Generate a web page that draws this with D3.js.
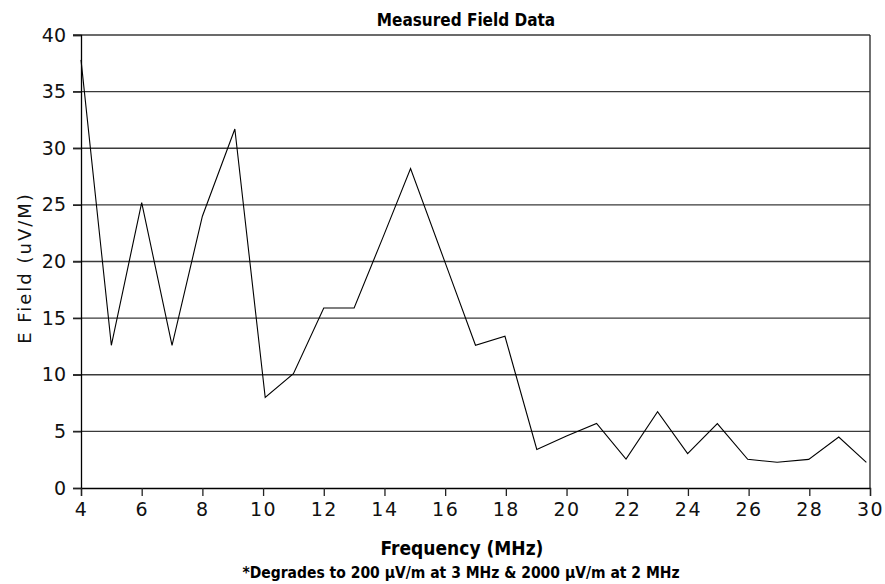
<!DOCTYPE html>
<html><head><meta charset="utf-8">
<script src="https://cdn.jsdelivr.net/npm/d3@7"></script>
<style>body{margin:0;background:#fff}</style>
</head><body>
<script>
const freq = [4, 5, 6, 7, 8, 9.07, 10.07, 11, 12, 13, 13.96, 14.86, 16, 17, 17.97, 19.02, 20, 20.99, 21.96, 23, 23.99, 24.97, 25.97, 26.94, 27.98, 28.97, 29.88];
const field = [37.8, 12.6, 25.2, 12.6, 24.0, 31.7, 8.0, 10.1, 15.9, 15.9, 22.2, 28.2, 19.9, 12.6, 13.4, 3.4, 4.6, 5.7, 2.56, 6.74, 3.03, 5.68, 2.53, 2.27, 2.53, 4.5, 2.27];
const xTicks = [4, 6, 8, 10, 12, 14, 16, 18, 20, 22, 24, 26, 28, 30];
const yTicks = [0, 5, 10, 15, 20, 25, 30, 35, 40];
const title = "Measured Field Data";
const xTitle = "Frequency (MHz)";
const yTitle = "E Field (uV/M)";
const footnote = "*Degrades to 200 \u03BCV/m at 3 MHz & 2000 \u03BCV/m at 2 MHz";

const W = 885, H = 584;
const m = {left: 81, right: 15, top: 35, bottom: 96};
const svg = d3.select("body").append("svg").attr("width", W).attr("height", H);
const x = d3.scaleLinear().domain([4, 30]).range([m.left, W - m.right]);
const y = d3.scaleLinear().domain([0, 40]).range([H - m.bottom, m.top]);
const tickFont = "'DejaVu Sans', sans-serif";

// gridlines
svg.append("g").selectAll("line").data(yTicks.filter(d => d > 0)).join("line")
  .attr("x1", x(4) - 8).attr("x2", x(30))
  .attr("y1", d => y(d)).attr("y2", d => y(d))
  .attr("stroke", "#3a3a3a").attr("stroke-width", 1.3);

// right frame
svg.append("line").attr("x1", x(30)).attr("x2", x(30)).attr("y1", y(40)).attr("y2", y(0))
  .attr("stroke", "#222").attr("stroke-width", 1.3);

// y axis
const ya = svg.append("g").attr("transform", `translate(${x(4)},0)`)
  .call(d3.axisLeft(y).tickValues(yTicks).tickSize(8).tickPadding(7).tickFormat(d3.format("d")));
ya.select(".domain").attr("stroke", "#000").attr("stroke-width", 1.3);
ya.selectAll(".tick line").attr("stroke", "#222").attr("stroke-width", 1.3);
ya.selectAll("text").attr("font-family", tickFont).attr("font-size", 19).attr("fill", "#111");

// x axis
const xa = svg.append("g").attr("transform", `translate(0,${y(0)})`)
  .call(d3.axisBottom(x).tickValues(xTicks).tickSize(8).tickPadding(7).tickFormat(d3.format("d")));
xa.select(".domain").attr("stroke", "#000").attr("stroke-width", 1.3);
xa.selectAll(".tick line").attr("stroke", "#222").attr("stroke-width", 1.3);
xa.selectAll("text").attr("font-family", tickFont).attr("font-size", 19).attr("fill", "#111")
  .attr("letter-spacing", 1.5);

// data line
const data = freq.map((f, i) => [f, field[i]]);
svg.append("path").datum(data)
  .attr("d", d3.line().x(d => x(d[0])).y(d => y(d[1])))
  .attr("fill", "none").attr("stroke", "#000").attr("stroke-width", 1.1);

// titles
const boldFont = "'DejaVu Sans Condensed', 'DejaVu Sans', sans-serif";
svg.append("text").attr("x", 466).attr("y", 26).attr("text-anchor", "middle")
  .attr("font-family", boldFont).attr("font-weight", "bold").attr("font-size", 17).text(title);
svg.append("text").attr("x", 462).attr("y", 555).attr("text-anchor", "middle")
  .attr("font-family", boldFont).attr("font-weight", "bold").attr("font-size", 19).text(xTitle);
svg.append("text").attr("x", 461).attr("y", 578).attr("text-anchor", "middle")
  .attr("font-family", boldFont).attr("font-weight", "bold").attr("font-size", 15.5).text(footnote);
svg.append("text").attr("transform", `translate(31,268) rotate(-90)`).attr("text-anchor", "middle")
  .attr("font-family", tickFont).attr("font-size", 18).attr("letter-spacing", 2).attr("fill", "#111").text(yTitle);
</script>
</body></html>
